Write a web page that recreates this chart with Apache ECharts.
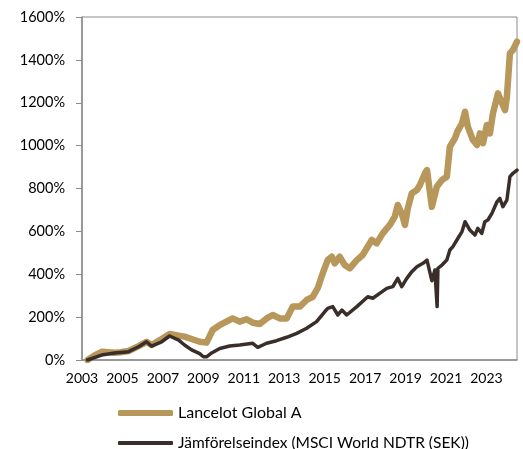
<!DOCTYPE html>
<html>
<head>
<meta charset="utf-8">
<script src="https://cdn.jsdelivr.net/npm/echarts@6/dist/echarts.min.js"></script>
<style>
  html, body { margin: 0; padding: 0; background: #fff; }
  #main { width: 523px; height: 449px; }
</style>
</head>
<body>
<div id="main"></div>
<script>
// Lancelot Global A (ackumulerad avkastning, %)
var fundYears = [2003.27, 2003.6, 2003.97, 2004.3, 2004.61, 2004.9, 2005.3, 2005.8, 2006.19, 2006.44,
  2006.94, 2007.33, 2007.78, 2008.07, 2008.42, 2008.82, 2009.16, 2009.46, 2009.81, 2010.3,
  2010.45, 2010.8, 2011.14, 2011.44, 2011.79, 2012.13, 2012.43, 2012.78, 2013.12, 2013.42,
  2013.77, 2014.11, 2014.41, 2014.66, 2014.91, 2015.15, 2015.35, 2015.5, 2015.74, 2015.99,
  2016.24, 2016.59, 2016.88, 2017.33, 2017.57, 2017.87, 2018.22, 2018.47, 2018.61, 2018.81,
  2018.97, 2019.11, 2019.31, 2019.56, 2019.71, 2019.96, 2020.06, 2020.3, 2020.55, 2020.8,
  2021.04, 2021.19, 2021.44, 2021.56, 2021.79, 2021.94, 2022.08, 2022.33, 2022.53, 2022.68,
  2022.83, 2023.02, 2023.17, 2023.32, 2023.57, 2023.77, 2023.92, 2024.01, 2024.16, 2024.31, 2024.51];
var fundValues = [0, 20, 38, 36, 34, 36, 42, 65, 85, 70,
  98, 121, 113, 109, 98, 85, 81, 140, 163, 187,
  194, 179, 190, 174, 168, 194, 210, 194, 194, 249,
  249, 280, 295, 336, 406, 466, 482, 451, 482, 443,
  428, 466, 490, 560, 544, 591, 630, 669, 723, 684,
  630, 708, 778, 793, 816, 871, 886, 715, 809, 840,
  855, 995, 1034, 1065, 1104, 1158, 1088, 1026, 1003, 1057,
  1011, 1096, 1057, 1150, 1244, 1197, 1166, 1228, 1431, 1446, 1485];

// Jämförelseindex (MSCI World NDTR (SEK))
var indexYears = [2003.27, 2003.97, 2004.61, 2005.3, 2005.8, 2006.19, 2006.44, 2006.94, 2007.33, 2007.78,
  2008.07, 2008.42, 2008.82, 2009.0, 2009.16, 2009.41, 2009.81, 2010.3, 2010.8, 2011.44,
  2011.69, 2012.13, 2012.62, 2013.12, 2013.62, 2014.11, 2014.6, 2015.0, 2015.15, 2015.4,
  2015.65, 2015.85, 2016.09, 2016.59, 2017.13, 2017.38, 2017.72, 2018.07, 2018.37, 2018.61,
  2018.81, 2019.06, 2019.31, 2019.56, 2019.86, 2020.06, 2020.2, 2020.3, 2020.45, 2020.53,
  2020.56, 2020.6, 2020.8, 2021.04, 2021.19, 2021.34, 2021.59, 2021.79, 2021.94, 2022.18,
  2022.43, 2022.57, 2022.77, 2022.92, 2023.07, 2023.27, 2023.52, 2023.66, 2023.81, 2024.01,
  2024.16, 2024.31, 2024.51];
var indexValues = [0, 23, 33, 39, 62, 85, 65, 85, 112, 93,
  70, 47, 30, 15, 15, 33, 54, 65, 70, 78,
  59, 78, 90, 106, 124, 148, 179, 225, 241, 249,
  210, 233, 210, 249, 295, 288, 311, 334, 342, 381,
  342, 381, 412, 435, 451, 466, 410, 370, 420, 420,
  249, 428, 443, 466, 513, 529, 568, 599, 645, 606,
  583, 614, 591, 645, 653, 684, 738, 754, 715, 746,
  855, 871, 886];

var yTicks = [0, 200, 400, 600, 800, 1000, 1200, 1400, 1600];

var fundName = 'Lancelot Global A';
var indexName = 'Jämförelseindex (MSCI World NDTR (SEK))';
var fundColor = '#B8975A';
var indexColor = '#3A2E2A';

function pairs(xs, ys) {
  return xs.map(function (x, i) { return [x, ys[i]]; });
}

var chart = echarts.init(document.getElementById('main'));
chart.setOption({
  animation: false,
  textStyle: { fontFamily: 'Lato', color: '#000' },
  grid: {
    left: 82, right: 6, top: 17, bottom: 89,
    show: true, borderColor: '#8c8c8c', borderWidth: 1
  },
  legend: [
    {
      left: 118, top: 405, padding: 0,
      itemWidth: 55, itemHeight: 6,
      icon: 'roundRect',
      textStyle: { fontSize: 16, color: '#000', fontFamily: 'Lato' },
      data: [fundName]
    },
    {
      left: 118, top: 435, padding: 0,
      itemWidth: 55, itemHeight: 4,
      icon: 'roundRect',
      textStyle: { fontSize: 15.5, color: '#000', fontFamily: 'Lato' },
      data: [indexName]
    }
  ],
  xAxis: {
    type: 'value',
    min: 2003,
    max: 2024.51,
    interval: 2,
    splitLine: { show: false },
    axisTick: { show: false },
    axisLine: { lineStyle: { color: '#8c8c8c', width: 1.5 } },
    axisLabel: {
      fontSize: 14, color: '#000', margin: 11, showMaxLabel: false,
      formatter: function (v) { return String(Math.round(v)); }
    }
  },
  yAxis: {
    type: 'value',
    min: yTicks[0],
    max: yTicks[yTicks.length - 1],
    interval: 200,
    splitLine: { show: false },
    axisLine: { show: true, lineStyle: { color: '#8c8c8c', width: 1.5 } },
    axisTick: { show: true, length: 6, lineStyle: { color: '#8c8c8c', width: 1 } },
    axisLabel: {
      fontSize: 14.5, color: '#000', margin: 17,
      formatter: function (v) { return v + '%'; }
    }
  },
  series: [
    {
      name: fundName,
      type: 'line',
      data: pairs(fundYears, fundValues),
      showSymbol: false,
      symbol: 'none',
      itemStyle: { color: fundColor },
      lineStyle: { width: 6.5, color: fundColor, cap: 'round', join: 'round' }
    },
    {
      name: indexName,
      type: 'line',
      data: pairs(indexYears, indexValues),
      showSymbol: false,
      symbol: 'none',
      itemStyle: { color: indexColor },
      lineStyle: { width: 3.5, color: indexColor, cap: 'round', join: 'round' }
    }
  ]
});
</script>
</body>
</html>
